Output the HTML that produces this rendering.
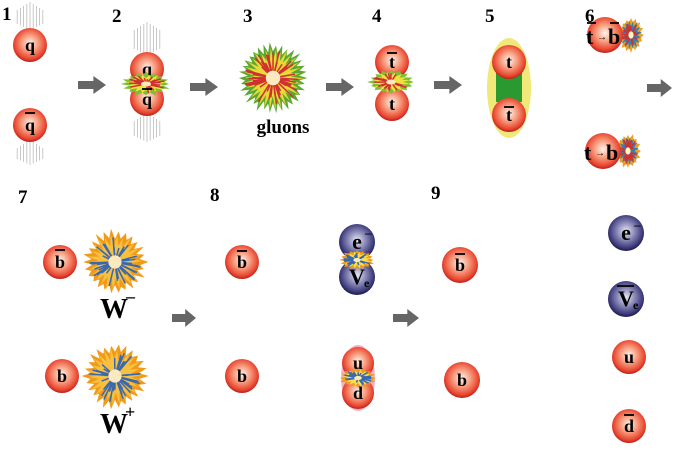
<!DOCTYPE html>
<html><head><meta charset="utf-8"><style>
html,body{margin:0;padding:0;background:#fff;width:678px;height:453px;overflow:hidden}
svg{display:block}
text{font-family:"Liberation Serif",serif;font-weight:bold;fill:#000}
</style></head><body>
<svg id="s" width="678" height="453" viewBox="0 0 678 453" xmlns="http://www.w3.org/2000/svg">
<defs>
<radialGradient id="red" cx="0.5" cy="0.45" r="0.55">
<stop offset="0" stop-color="#fff4ec"/><stop offset="0.45" stop-color="#f79a7c"/><stop offset="0.85" stop-color="#e8432e"/><stop offset="1" stop-color="#b8201a"/></radialGradient>
<radialGradient id="blue" cx="0.5" cy="0.45" r="0.55">
<stop offset="0" stop-color="#e8e8f4"/><stop offset="0.45" stop-color="#8a88b8"/><stop offset="0.85" stop-color="#3a3878"/><stop offset="1" stop-color="#1c1a48"/></radialGradient>
</defs>
<g id="g"></g>
</svg>
<script>
var g=document.getElementById('g'),NS='http://www.w3.org/2000/svg';
function el(t,a,txt){var e=document.createElementNS(NS,t);for(var k in a)e.setAttribute(k,a[k]);if(txt)e.textContent=txt;g.appendChild(e);return e;}
function star(cx,cy,rx,ry,n,c1,c2,c3,seed,core){
 var s=seed||1;function r(){s=(s*9301+49297)%233280;return s/233280;}
 var p=[];for(var i=0;i<n*2;i++){var a=i*Math.PI/n;var k=i%2?0.68+0.1*r():0.88+0.15*r();p.push((cx+Math.cos(a)*rx*k).toFixed(1)+','+(cy+Math.sin(a)*ry*k).toFixed(1));}
 el('polygon',{points:p.join(' '),fill:c1});
 p=[];for(i=0;i<n*2;i++){a=i*Math.PI/n+0.2;k=i%2?0.5:0.75+0.15*r();p.push((cx+Math.cos(a)*rx*k).toFixed(1)+','+(cy+Math.sin(a)*ry*k).toFixed(1));}
 el('polygon',{points:p.join(' '),fill:c2});
 for(i=0;i<n*1.5;i++){a=r()*6.28;var l=0.4+0.4*r();el('line',{x1:cx+Math.cos(a)*rx*0.2,y1:cy+Math.sin(a)*ry*0.2,x2:cx+Math.cos(a)*rx*l,y2:cy+Math.sin(a)*ry*l,stroke:c3,'stroke-width':1.5});}
 el('ellipse',{cx:cx,cy:cy,rx:rx*0.2,ry:ry*0.2,fill:core||'#fde9c0'});
}
function ball(cx,cy,r,lab,blue,fs){el('circle',{cx:cx,cy:cy,r:r,fill:blue?'url(#blue)':'url(#red)'});
 if(lab){var t=el('text',{x:cx,y:cy+(fs||18)*0.32,'text-anchor':'middle','font-size':fs||18});t.textContent=lab;}}
function bar(x1,x2,y){el('line',{x1:x1,x2:x2,y1:y,y2:y,stroke:'#000','stroke-width':1.8});}
function arrow(x,y,w){el('polygon',{points:[x,y-4,x+w*0.55,y-4,x+w*0.55,y-9,x+w,y,x+w*0.55,y+9,x+w*0.55,y+4,x,y+4].join(' '),fill:'#666'});}
function lines(cx,y1,y2){for(var i=-4;i<=4;i++)el('line',{x1:cx+i*3.2,x2:cx+i*3.2,y1:y1+Math.abs(i)*2,y2:y2-Math.abs(i)*1.5,stroke:'#bbb','stroke-width':0.8});}
function num(x,y,t){el('text',{x:x,y:y,'font-size':19},t);}
num(2,20,'1');num(112,22,'2');num(243,22,'3');num(372,22,'4');num(485,22,'5');num(585,22,'6');
num(18,203,'7');num(210,201,'8');num(431,199,'9');
// 1
lines(30,2,30);lines(30,140,165);
ball(30,45,17,'q');ball(30,125,17,'q');bar(25,35,113);
arrow(78,85,28);
// 2
lines(147,22,55);lines(147,113,142);
ball(147,69,17,'q');ball(147,99,17,'q');
star(146,84,25,12,16,'#7cc030','#f0e040','#d03030',3);bar(142,152,89);
arrow(190,87,28);
// 3
star(273,78,36,36,34,'#5aa830','#e8d838','#d03030',7);
el('text',{x:283,y:133,'font-size':19,'text-anchor':'middle'},'gluons');
arrow(326,87,28);
// 4
ball(392,62,17,'t');ball(392,104,17,'t');bar(387,397,53);
star(391,82,24,12,16,'#7cc030','#f0e040','#d03030',5);
arrow(434,85,28);
// 5
el('ellipse',{cx:509,cy:88,rx:22,ry:50,fill:'#f0e878'});
el('rect',{x:496,y:72,width:26,height:30,fill:'#2a9a30'});
ball(509,62,17,'t');ball(509,115,17,'t');bar(504,514,107);
// 6
star(631,35,13,18,16,'#f0a020','#3880b0','#d03030',11,'#fff8c0');
ball(605,35,18,'');
el('text',{x:586,y:44,'font-size':22},'t');el('text',{x:597,y:40,'font-size':10},'→');el('text',{x:608,y:44,'font-size':22},'b');
bar(587,596,23);bar(610,619,23);
star(628,151,13,18,16,'#f0a020','#3880b0','#d03030',13,'#fff8c0');
ball(603,151,18,'');
el('text',{x:584,y:160,'font-size':22},'t');el('text',{x:595,y:156,'font-size':10},'→');el('text',{x:606,y:160,'font-size':22},'b');
arrow(647,88,25);
// 7
star(115,262,33,33,26,'#f09a18','#f8c040','#3868b0',17);
ball(60,262,17,'b');bar(55,65,250);
el('text',{x:100,y:318,'font-size':28},'W');el('text',{x:126,y:302,'font-size':18},'–');
star(115,376,33,33,26,'#f09a18','#f8c040','#3868b0',19);
ball(62,376,17,'b');
el('text',{x:100,y:433,'font-size':28},'W');el('text',{x:125,y:418,'font-size':18},'+');
arrow(172,318,24);
// 8
ball(242,262,17,'b');bar(237,247,251);
ball(242,376,17,'b');
ball(357,242,18,'e',true,22);el('text',{x:365,y:237,'font-size':13},'–');
ball(357,277,18,'V',true,22);el('text',{x:364,y:287,'font-size':12},'e');bar(348,364,264);
star(357,260,18,10,16,'#f09a18','#f8e050','#3868b0',23);
el('ellipse',{cx:358,cy:378,rx:17,ry:33,fill:'#f2b0c0'});
ball(358,363,16,'u');ball(358,393,16,'d');bar(353,363,383);
star(358,378,19,10,16,'#f09a18','#f8e050','#3868b0',29);
arrow(393,318,26);
// 9
ball(460,265,18,'b');bar(455,465,254);
ball(462,380,18,'b');
ball(626,233,18,'e',true,22);el('text',{x:634,y:229,'font-size':13},'–');
ball(626,299,18,'V',true,22);el('text',{x:633,y:309,'font-size':12},'e');bar(617,634,286);
ball(629,357,17,'u');
ball(629,426,17,'d');bar(624,634,415);
</script>
</body></html>
